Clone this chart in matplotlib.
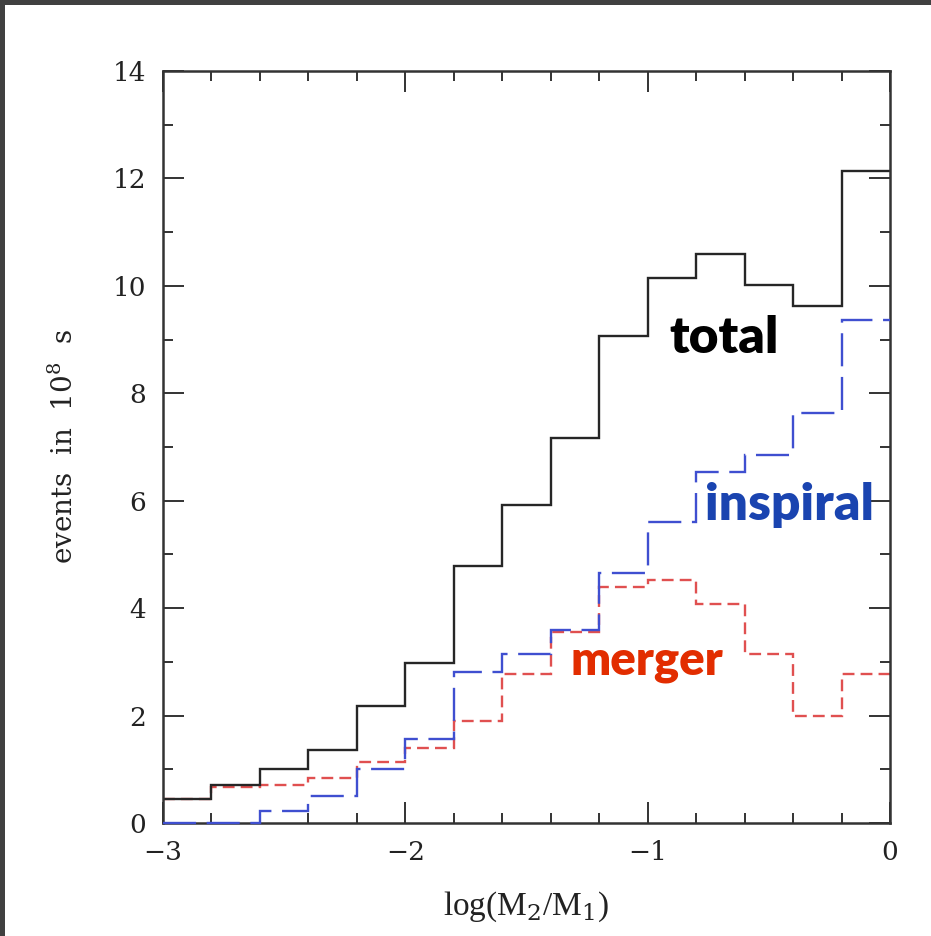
import numpy as np
import matplotlib
matplotlib.use("Agg")
import matplotlib.pyplot as plt
from matplotlib.patches import Rectangle
from matplotlib.ticker import MultipleLocator

# Event counts per bin of log(M2/M1), bins 0.2 wide from -3 to 0
bin_edges = np.linspace(-3.0, 0.0, 16)
total = [0.45, 0.70, 1.00, 1.36, 2.18, 2.98, 4.79, 5.92, 7.17, 9.07,
         10.15, 10.60, 10.02, 9.63, 12.14]
inspiral = [0.0, 0.0, 0.22, 0.50, 1.00, 1.56, 2.81, 3.15, 3.60, 4.66,
            5.60, 6.53, 6.86, 7.64, 9.37]
merger = [0.45, 0.67, 0.70, 0.84, 1.14, 1.40, 1.90, 2.78, 3.56, 4.40,
          4.53, 4.08, 3.15, 1.99, 2.78]

x_ticks = [-3, -2, -1, 0]
y_ticks = [0, 2, 4, 6, 8, 10, 12, 14]

plt.rcParams["mathtext.fontset"] = "dejavuserif"

W, H = 931, 936
fig = plt.figure(figsize=(W / 100, H / 100), dpi=100, facecolor="white")

# dark frame strips along the top and left edges
fig.patches.append(Rectangle((0, 1 - 4.5 / H), 1, 4.5 / H, transform=fig.transFigure,
                             facecolor="#404040", edgecolor="none", zorder=0))
fig.patches.append(Rectangle((0, 0), 4.5 / W, 1, transform=fig.transFigure,
                             facecolor="#404040", edgecolor="none", zorder=0))

left, right, top, bottom = 163, 890, 71, 823
ax = fig.add_axes([left / W, 1 - bottom / H, (right - left) / W, (bottom - top) / H])

ax.stairs(merger, bin_edges, baseline=None, color="#e05050", lw=1.7,
          linestyle=(0, (5, 2.6)), zorder=1.8)
ax.stairs(total, bin_edges, baseline=None, color="#262626", lw=1.7, zorder=2)
ax.stairs(inspiral, bin_edges, baseline=None, color="#3f4fd0", lw=1.7,
          linestyle=(0, (14, 4.5)), zorder=3, clip_on=False)

ax.set_xlim(-3, 0)
ax.set_ylim(0, 14)
ax.set_xticks(x_ticks)
ax.set_yticks(y_ticks)
ax.set_xticklabels(["\u22123", "\u22122", "\u22121", "0"])
ax.xaxis.set_minor_locator(MultipleLocator(0.2))
ax.yaxis.set_minor_locator(MultipleLocator(1))

for s in ax.spines.values():
    s.set_linewidth(1.8)
    s.set_color("#333333")

ax.tick_params(which="both", direction="in", top=True, right=True,
               color="#333333", width=1.4)
ax.tick_params(which="major", length=15, labelsize=19,
               labelcolor="#222222")
ax.tick_params(which="minor", length=7.5)
ax.tick_params(axis="x", which="major", pad=12)
ax.tick_params(axis="y", which="major", pad=12)
for lab in ax.get_xticklabels() + ax.get_yticklabels():
    lab.set_family("DejaVu Serif")

ax.set_xlabel(r"log(M$_2$/M$_1$)", family="Liberation Serif", fontsize=24,
              color="#222222", labelpad=18)
ax.set_ylabel(r"events  in  10$^8$  s", family="DejaVu Serif", fontsize=20,
              color="#222222", labelpad=24)

label_style = dict(family="Lato", weight="heavy", ha="left", va="baseline")
ax.text(-0.912, 8.75, "total", fontsize=37, color="black", **label_style)
ax.text(-0.763, 5.64, "inspiral", fontsize=37, color="#1a44b0", **label_style)
ax.text(-1.320, 2.76, "merger", fontsize=34, color="#e22d00", **label_style)

fig.savefig("out.png", dpi=100, facecolor="white")
